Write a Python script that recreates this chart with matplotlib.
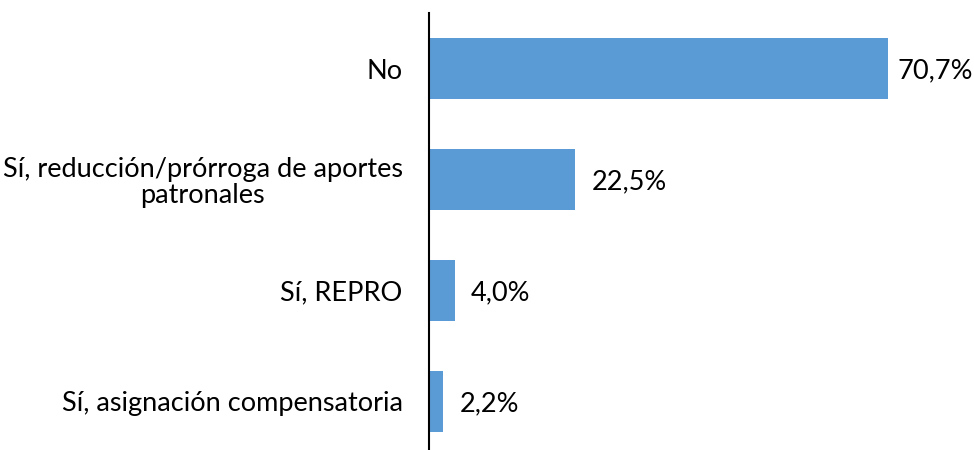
import numpy as np
import matplotlib.pyplot as plt

categories = ['No', 'Sí, reducción/prórroga de aportes\npatronales', 'Sí, REPRO', 'Sí, asignación compensatoria']
values = [70.7, 22.5, 4.0, 2.2]
value_labels = ['70,7%', '22,5%', '4,0%', '2,2%']

plt.rcParams['font.family'] = ['Lato', 'DejaVu Sans']

fig = plt.figure(figsize=(9.74, 4.5), dpi=100)
ax = fig.add_axes([429 / 974, 0, 545 / 974, 437 / 450])

y = np.arange(len(categories))
ax.barh(y, values, height=0.55, color='#5B9BD5')

# the longest label sits closer to its bar so it stays inside the chart
for yi, v, lab in zip(y, values, value_labels):
    gap = 1.5 if v == max(values) else 2.5
    ax.text(v + gap, yi + 0.02, lab, va='center', ha='left', fontsize=19.5, color='black')

ax.set_yticks(y)
ax.set_yticklabels(categories, fontsize=19.5, ha='right', multialignment='center', linespacing=1.05)
ax.tick_params(axis='y', length=0, pad=19)
ax.set_xticks([])
ax.set_xlim(0, 545 / (459 / 70.7))
ax.set_ylim(-0.5 + 437 / 111, -0.5)

for s in ['top', 'right', 'bottom']:
    ax.spines[s].set_visible(False)
ax.spines['left'].set_linewidth(1.5)
ax.spines['left'].set_color('black')

fig.savefig('out.png', dpi=100)
